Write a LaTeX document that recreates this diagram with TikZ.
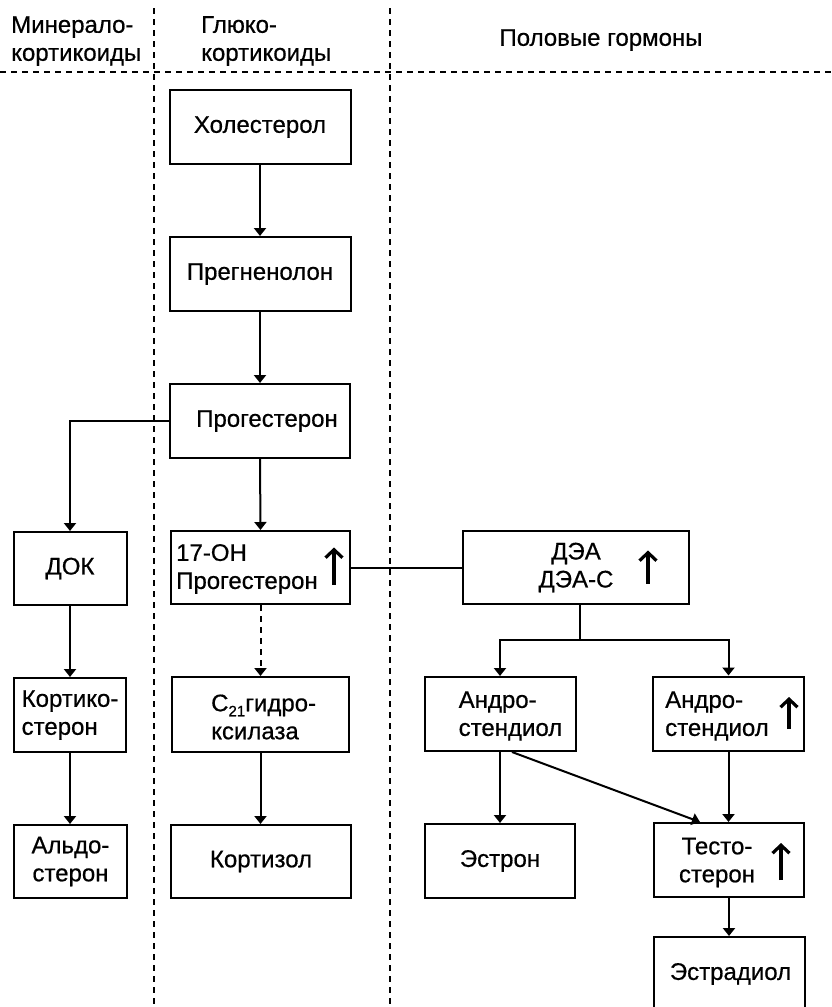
\documentclass[tikz,border=0pt]{standalone}
\usepackage{fontspec}
\setmainfont{Liberation Sans}[FakeBold=0.6]
\usetikzlibrary{arrows.meta,calc}
\begin{document}
\begin{tikzpicture}[x=1pt,y=-1pt,
  every node/.style={font=\fontsize{24}{28}\selectfont, inner sep=0pt},
  box/.style={draw, line width=2pt, minimum height=74pt, align=center},
  txt/.style={align=left},
  link/.style={line width=2pt},
  arr/.style={line width=2pt, -{Triangle[width=12pt,length=8pt]}},
  darr/.style={arr, dash pattern=on 6pt off 5pt},
  sep/.style={line width=1.4pt, dash pattern=on 6pt off 5pt},
  up/.style={line width=3.2pt, -{Straight Barb[length=8pt,width=17pt,line width=3.2pt]}},
]
\useasboundingbox (0,0) rectangle (831,1007);
\clip (0,0) rectangle (831,1007);

% column separators
\draw[sep] (154,8) -- (154,1007);
\draw[sep] (390,8) -- (390,1007);
\draw[sep] (0,72) -- (831,72);

% column headings
\node[txt, anchor=west] (hmin) at (11,41) {Минерало-\\кортикоиды};
\node[txt, anchor=west] (hglu) at (201,41) {Глюко-\\кортикоиды};
\node (hsex) at (601,40) {Половые гормоны};

% central column
\node[box, minimum width=181pt] (hol) at (260,127) {Холестерол};
\node[box, minimum width=181pt] (preg) at (260,274) {Прегненолон};
\node[box, minimum width=180pt] (prog) at (260,421) {\hspace*{14pt}Прогестерон};
\node[box, minimum width=179pt, minimum height=73pt] (oh) at (260.5,567.5) {};
\node[box, minimum width=177pt, minimum height=75pt] (c21) at (260.5,714.5) {};
\node[box, minimum width=180pt, minimum height=73pt] (krt) at (261,861.5) {Кортизол};

% mineralocorticoid column
\node[box, minimum width=113pt, minimum height=73pt] (dok) at (70,568.5) {ДОК};
\node[box, minimum width=112pt, align=left] (kst) at (70,715) {Кортико-\\стерон};
\node[box, minimum width=113pt, minimum height=73pt] (ald) at (70.5,861.5) {Альдо-\\стерон};

% sex hormone column
\node[box, minimum width=226pt, minimum height=73pt] (dea) at (576,567.5) {ДЭА\\ДЭА-С};
\node[box, minimum width=151pt] (andL) at (500,714) {};
\node[box, minimum width=151pt] (andR) at (728.5,713.5) {};
\node[box, minimum width=150pt] (estr) at (500,861) {Эстрон};
\node[box, minimum width=150pt] (tst) at (729,860) {};
\node[box, minimum width=151pt, minimum height=100pt] (estd) at (729.5,987) {};

% texts placed off-centre inside boxes
\node[txt, anchor=west] (oht) at ($(oh.west)+(6,1.5)$) {17-OH\\Прогестерон};
\node[txt, anchor=west] (c21t) at ($(c21.west)+(40,2.5)$)
  {C\raisebox{-5pt}{\fontsize{15}{15}\selectfont 21}гидро-\\ксилаза};
\node[txt, anchor=west] (andLt) at ($(andL.west)+(35,2)$) {Андро-\\стендиол};
\node[txt, anchor=west] (andRt) at ($(andR.west)+(13,2.5)$) {Андро-\\стендиол};
\node[align=center] (tstt) at ($(tst.center)+(-12,2.5)$) {Тесто-\\стерон};
\node (estdt) at ($(estd.north)+(1,38)$) {Эстрадиол};

% increase marks
\draw[up] ($(oh.east)+(-17,17)$) -- ($(oh.east)+(-17,-20)$);
\draw[up] ($(dea.east)+(-42,16)$) -- ($(dea.east)+(-42,-17)$);
\draw[up] ($(andR.east)+(-16,15.5)$) -- ($(andR.east)+(-16,-16.5)$);
\draw[up] ($(tst.east)+(-24,20)$) -- ($(tst.east)+(-24,-17)$);

% pathways
\draw[arr] (hol.south) -- (preg.north);
\draw[arr] (preg.south) -- (prog.north);
\draw[arr] (prog.south) -- (oh.north);
\draw[arr] (prog.west) -| (dok.north);
\draw[link] (oh.east) -- (oh.east -| dea.west);
\draw[darr] (oh.south) -- (c21.north);
\draw[arr] (c21.south) -- (krt.north -| c21.south);
\draw[arr] (dok.south) -- (kst.north);
\draw[arr] (kst.south) -- (ald.north -| kst.south);

\coordinate (fork) at (580,640);
\draw[link] (fork |- dea.south) -- (fork);
\draw[arr] (fork) -| (andL.north);
\draw[arr] (fork) -| (andR.north);
\draw[arr] (andL.south) -- (estr.north);
\draw[arr] ($(andL.south)+(12,0)$) -- ($(tst.north)+(-29,0)$);
\draw[arr] (andR.south) -- (tst.north -| andR.south);
\draw[arr] (tst.south) -- (estd.north -| tst.south);
\end{tikzpicture}
\end{document}
